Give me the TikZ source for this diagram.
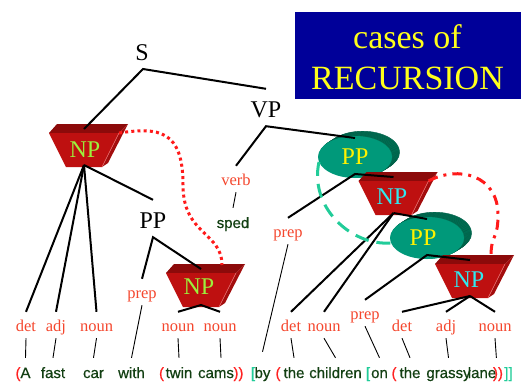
\documentclass[tikz,border=0pt]{standalone}
\usepackage{fontspec}
\setmainfont{Liberation Serif}
\newfontfamily\wordfont[FakeBold=0.6]{Liberation Sans}

\definecolor{titleblue}{HTML}{000099}
\definecolor{titleyellow}{HTML}{FFFF1A}
\definecolor{npfront}{HTML}{BE1010}
\definecolor{nptopc}{HTML}{8C0A0A}
\definecolor{npsidec}{HTML}{A30D0D}
\definecolor{nphlc}{HTML}{E87070}
\definecolor{npgreen}{HTML}{9CF03C}
\definecolor{npcyan}{HTML}{30E8F0}
\definecolor{ppfrontc}{HTML}{00997A}
\definecolor{ppbandc}{HTML}{007558}
\definecolor{ppstripec}{HTML}{005E47}
\definecolor{catred}{HTML}{F4462D}
\definecolor{wordgreen}{HTML}{123F12}
\definecolor{parenred}{HTML}{FF2222}
\definecolor{arcteal}{HTML}{22CC99}
\definecolor{linkred}{HTML}{FF1A1A}

% 3D trapezoid for an NP: name, centre x, centre y
\newcommand{\npshape}[3]{%
  \begin{scope}[shift={(#2,#3)}]
    \fill[nptopc] (-35,-17) -- (-27,-26) -- (44,-26) -- (35,-17) -- cycle;
    \fill[npsidec] (35,-17) -- (44,-26) -- (24,13) -- (18,17) -- cycle;
    \fill[npfront] (-35,-17) -- (35,-17) -- (18,17) -- (-18,17) -- cycle;
    \draw[nphlc, line width=0.6pt] (35,-17) -- (18,17);
    \coordinate (#1-top) at (0,-21);
    \coordinate (#1-bot) at (0,15);
    \coordinate (#1-tr) at (35,-17);
    \coordinate (#1-back) at (21,-25);
  \end{scope}}

% striped cylinder for a PP: name, centre x, centre y
\newcommand{\ppcyl}[3]{%
  \foreach \k in {8,7,...,1}{
    \fill[ppbandc, draw=ppstripec, line width=0.4pt]
      ({#2+0.95*\k},{#3-0.6*\k}) ellipse [x radius=37pt, y radius=21pt];
  }
  \fill[ppfrontc] (#2,#3) ellipse [x radius=37pt, y radius=21pt];
  \coordinate (#1-top) at (#2,{#3-19});
  \coordinate (#1-bot) at (#2,{#3+17});
  \coordinate (#1-arc) at ({#2-36},{#3+5});}

\begin{document}
\begin{tikzpicture}[x=1pt,y=-1pt,
  treest/.style={font=\fontsize{24}{28}\selectfont, inner sep=0, anchor=base,
                 text height=28pt, text depth=9pt},
  boxlabel/.style={font=\fontsize{24}{28}\selectfont, inner sep=0},
  catst/.style={font=\fontsize{16.5}{19}\selectfont, text=catred, inner sep=0,
                anchor=base, text height=19pt, text depth=7pt},
  wordst/.style={font=\wordfont\fontsize{15}{18}\selectfont, text=wordgreen,
                 inner sep=0, anchor=base, text height=20pt, text depth=4pt},
  paren/.style={wordst, text=parenred},
  brack/.style={wordst, text=arcteal},
  branch/.style={black, line width=2pt},
  leaf/.style={black, line width=0.9pt},
  titlest/.style={font=\fontsize{34}{40}\selectfont, text=titleyellow,
                  inner sep=0, anchor=base}]
\useasboundingbox (0,0) rectangle (526,386);

% title panel
\fill[titleblue] (295,12) rectangle (521,99);
\node[titlest] (t1) at (407.5,48) {cases of};
\node[titlest] (t2) at (407.5,89) {RECURSION};

% phrase shapes
\npshape{np1}{84}{150}
\npshape{np2}{201}{290}
\ppcyl{pp1}{355}{157}
\npshape{np3}{393.5}{198}
\ppcyl{pp2}{427}{238}
\npshape{np4}{470}{281}

\node[boxlabel, text=npgreen] (np1) at (85,150) {NP};
\node[boxlabel, text=npgreen] (np2) at (199,287) {NP};
\node[boxlabel, text=npcyan] (np3) at (392,197) {NP};
\node[boxlabel, text=npcyan] (np4) at (469,280) {NP};
\node[boxlabel, text=yellow] (pp1) at (355,157) {PP};
\node[boxlabel, text=yellow] (pp2) at (423,238) {PP};

% plain tree labels
\node[treest] (S) at (142,60) {S};
\node[treest] (VP) at (266,117) {VP};
\node[treest] (PPl) at (153,228) {PP};

% categories
\node[catst] (det1) at (26,331) {det};
\node[catst] (adj1) at (56,331) {adj};
\node[catst] (noun1) at (96.5,331) {noun};
\node[catst] (prep1) at (142,298) {prep};
\node[catst] (noun2) at (178,331) {noun};
\node[catst] (noun3) at (220,331) {noun};
\node[catst] (verb) at (236,185) {verb};
\node[catst] (prep2) at (288,237) {prep};
\node[catst] (det2) at (291,331) {det};
\node[catst] (noun4) at (324,331) {noun};
\node[catst] (prep3) at (365,319) {prep};
\node[catst] (det3) at (402,331) {det};
\node[catst] (adj2) at (446,331) {adj};
\node[catst] (noun5) at (495,331) {noun};

% words
\node[wordst] (sped) at (233,228) {sped};
\node[paren] (lp1) at (18,378) {(};
\node[wordst] (wA) at (25.5,378) {A};
\node[wordst] (fast) at (53,378) {fast};
\node[wordst] (car) at (93.5,378) {car};
\node[wordst] (with) at (131.5,378) {with};
\node[paren] (lp2) at (161.5,378) {(};
\node[wordst] (twin) at (179,378) {twin};
\node[wordst] (cams) at (216,378) {cams};
\node[paren] (rp1) at (238.5,378) {))};
\node[brack] (lb1) at (253,378) {[};
\node[wordst] (by) at (262.5,378) {by};
\node[paren] (lp3) at (278,378) {(};
\node[wordst] (the1) at (294,378) {the};
\node[wordst] (children) at (335.5,378) {children};
\node[brack] (lb2) at (368,378) {[};
\node[wordst] (on) at (379.5,378) {on};
\node[paren] (lp4) at (394,378) {(};
\node[wordst] (the2) at (410,378) {the};
\node[wordst] (grassy) at (448.5,378) {grassy};
\node[wordst] (lane) at (482,378) {lane};
\node[paren] (rp2) at (498,378) {))};
\node[brack] (rb) at (508.5,378) {]]};

% tree branches
\coordinate (sB) at (143,69);
\draw[branch] (np1-top) -- (sB) -- (VP.north);
\draw[branch] (verb.north) -- (VP.south) -- (pp1-top);
\draw[branch] (np1-bot) -- (det1.north);
\draw[branch] (np1-bot) -- (adj1.north);
\draw[branch] (np1-bot) -- (noun1.north);
\draw[branch] (np1-bot) -- (PPl.north);
\draw[branch] (prep1.north) -- (PPl.south) -- (np2-top);
\draw[branch] (noun2.north) -- (np2-bot) -- (noun3.north);
\draw[branch] (prep2.north) -- (pp1-bot) -- (np3-top);
\draw[branch] (np3-bot) -- (pp2-top);
\draw[branch] (np3-bot) -- (det2.north);
\draw[branch] (np3-bot) -- (noun4.north);
\draw[branch] (prep3.north) -- (pp2-bot) -- (np4-top);
\draw[branch] (np4-bot) -- (det3.north);
\draw[branch] (np4-bot) -- (adj2.north);
\draw[branch] (np4-bot) -- (noun5.north);

% categories to words
\draw[leaf] (det1.south) -- (wA.north);
\draw[leaf] (adj1.south) -- (fast.north);
\draw[leaf] (noun1.south) -- (car.north);
\draw[leaf] (prep1.south) -- (with.north);
\draw[leaf] (noun2.south) -- (twin.north);
\draw[leaf] (noun3.south) -- ([xshift=5pt]cams.north);
\draw[leaf] (verb.south) -- (sped.north);
\draw[leaf] (prep2.south) -- ([yshift=6pt]by.north);
\draw[leaf] (det2.south) -- (the1.north);
\draw[leaf] (noun4.south) -- (children.north);
\draw[leaf] (prep3.south) -- (on.north);
\draw[leaf] (det3.south) -- (the2.north);
\draw[leaf] (adj2.south) -- (grassy.north);
\draw[leaf] (noun5.south) -- (lane.north east);

% recursion links
\draw[linkred, line width=3pt, dash pattern=on 3pt off 3.2pt]
  (np1-tr) .. controls +(40,-6) and +(0,-55) .. (183,185)
           .. controls +(0,50) and +(0,-33) .. (np2-back);
\draw[linkred, line width=3pt, dash pattern=on 10pt off 6pt on 3pt off 6pt]
  (np3-tr) .. controls +(30,-16) and +(0,-40) .. (498,215)
           .. controls +(0,25) and +(0,-22) .. (np4-back);
\draw[arcteal, line width=3pt, dash pattern=on 14pt off 8pt]
  (pp1-arc) .. controls +(-10,45) and +(-40,3) .. (pp2-arc);
\end{tikzpicture}
\end{document}
